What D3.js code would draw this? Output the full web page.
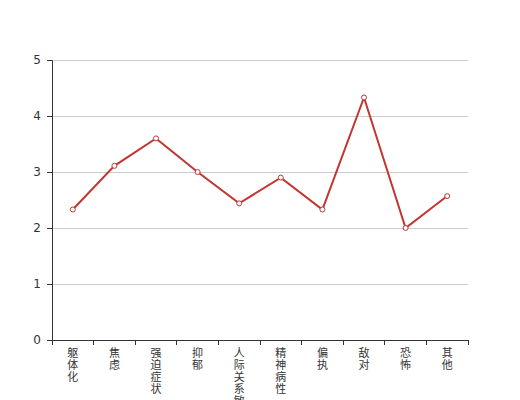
<!DOCTYPE html>
<html lang="zh">
<head>
    <meta charset="UTF-8">
    <title>因子得分</title>
    <script src="https://d3js.org/d3.v7.min.js"></script>
    <style>
        body { margin: 0; background: #fff; }
        svg { display: block; font-family: "Noto Sans CJK SC", "DejaVu Sans", sans-serif; }
    </style>
</head>
<body>
    <svg id="chart" width="520" height="400"></svg>
    <script>
        const categories = ["躯体化", "焦虑", "强迫症状", "抑郁", "人际关系敏感", "精神病性", "偏执", "敌对", "恐怖", "其他"];
        const scores = [2.33, 3.11, 3.6, 3.0, 2.44, 2.9, 2.33, 4.33, 2.0, 2.57];
        const yTicks = [0, 1, 2, 3, 4, 5];

        const margin = { top: 60, right: 52, bottom: 60, left: 52 };
        const width = 520 - margin.left - margin.right;
        const height = 400 - margin.top - margin.bottom;

        const svg = d3.select("#chart");
        const g = svg.append("g").attr("transform", `translate(${margin.left},${margin.top})`);

        const x = d3.scaleBand().domain(categories).range([0, width]);
        const y = d3.scaleLinear().domain([0, 5]).range([height, 0]);

        // grid lines
        g.append("g").selectAll("line").data(yTicks.filter(d => d > 0)).enter().append("line")
            .attr("x1", 0).attr("x2", width)
            .attr("y1", d => y(d)).attr("y2", d => y(d))
            .attr("stroke", "#ccc").attr("stroke-width", 1).attr("shape-rendering", "crispEdges");

        // y axis
        const yAxis = g.append("g").call(d3.axisLeft(y).tickValues(yTicks).tickSize(5).tickPadding(6).tickFormat(d3.format("d")));
        yAxis.select(".domain").attr("stroke", "#333");
        yAxis.selectAll(".tick line").attr("stroke", "#333");
        yAxis.selectAll("text").attr("fill", "#333").style("font-size", "12px").style("font-family", "'DejaVu Sans', sans-serif");

        // x axis: ticks on category boundaries, vertical labels
        const xAxis = g.append("g").attr("transform", `translate(0,${height})`);
        xAxis.append("line").attr("x1", 0).attr("x2", width).attr("y1", 0).attr("y2", 0)
            .attr("stroke", "#333").attr("shape-rendering", "crispEdges");
        const bounds = categories.map(c => x(c)).concat([width]);
        xAxis.selectAll("line.tick").data(bounds).enter().append("line")
            .attr("class", "tick")
            .attr("x1", d => d).attr("x2", d => d).attr("y1", 0).attr("y2", 5)
            .attr("stroke", "#333").attr("shape-rendering", "crispEdges");
        const labels = xAxis.selectAll("text").data(categories).enter().append("text")
            .attr("text-anchor", "middle").attr("fill", "#333").style("font-size", "11px");
        labels.each(function (c) {
            d3.select(this).selectAll("tspan").data(Array.from(c)).enter().append("tspan")
                .attr("x", x(c) + x.bandwidth() / 2)
                .attr("y", (d, i) => 17 + i * 12)
                .text(d => d);
        });

        // line
        const line = d3.line()
            .x((d, i) => x(categories[i]) + x.bandwidth() / 2)
            .y(d => y(d));
        g.append("path").datum(scores).attr("d", line)
            .attr("fill", "none").attr("stroke", "#c23531").attr("stroke-width", 2);

        g.selectAll("circle").data(scores).enter().append("circle")
            .attr("cx", (d, i) => x(categories[i]) + x.bandwidth() / 2)
            .attr("cy", d => y(d))
            .attr("r", 2.5).attr("fill", "#fff").attr("stroke", "#c23531").attr("stroke-width", 1);
    </script>
</body>
</html>
